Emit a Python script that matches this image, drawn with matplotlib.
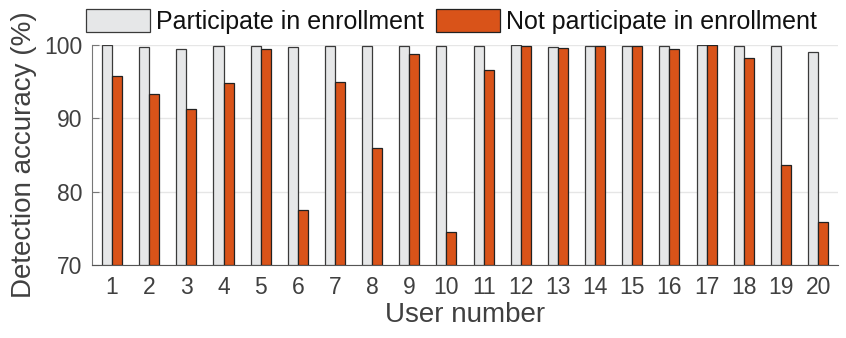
import matplotlib
matplotlib.use("Agg")
import matplotlib.pyplot as plt
import numpy as np

plt.rcParams['font.family'] = ['Liberation Sans', 'DejaVu Sans']

users = [str(i) for i in range(1, 21)]
participate = [100.0, 99.7, 99.4, 99.9, 99.9, 99.7, 99.8, 99.9, 99.8, 99.8,
               99.9, 100.0, 99.75, 99.9, 99.9, 99.9, 100.0, 99.9, 99.9, 99.0]
not_participate = [95.7, 93.3, 91.3, 94.8, 99.5, 77.5, 95.0, 85.9, 98.7, 74.5,
                   96.6, 99.85, 99.55, 99.8, 99.8, 99.5, 100.0, 98.2, 83.7, 75.9]
labels = ["Participate in enrollment", "Not participate in enrollment"]

txt = "#404040"
fig = plt.figure(figsize=(8.46, 3.38), dpi=100)
ax = fig.add_axes([0.1087, 0.216, 0.882, 0.651])

x = np.arange(1, len(users) + 1)
w = 0.27
ax.bar(x - w / 2, np.array(participate) - 70, w, bottom=70, color="#e6e7e8",
       edgecolor="#3a3a3a", linewidth=0.9, label=labels[0], zorder=3)
ax.bar(x + w / 2, np.array(not_participate) - 70, w, bottom=70, color="#d95319",
       edgecolor="#222222", linewidth=0.9, label=labels[1], zorder=3)

ax.set_xlim(0.46, 20.54)
ax.set_ylim(70, 100)
ax.set_yticks([70, 80, 90, 100])
ax.set_xticks(x)
ax.set_xticklabels(users)
ax.yaxis.grid(True, color="#e6e6e6", linewidth=1.0, zorder=0)
ax.set_axisbelow(True)

for s in ["top", "right"]:
    ax.spines[s].set_visible(False)
ax.spines["left"].set_color("#777777")
ax.spines["bottom"].set_color("#555555")
ax.tick_params(axis="y", direction="in", length=5, color="#777777",
               labelsize=16.5, labelcolor=txt, pad=7)
ax.tick_params(axis="x", length=0, labelsize=16.5, labelcolor=txt, pad=8)

ax.set_ylabel("Detection accuracy (%)", fontsize=20, color=txt, labelpad=5)
ax.set_xlabel("User number", fontsize=20, color=txt, labelpad=2)

fig.legend(loc="lower left", bbox_to_anchor=(86 / 846, 1 - 34 / 338), ncol=2,
           frameon=False, fontsize=18, borderpad=0, borderaxespad=0,
           handlelength=2.55, handleheight=1.0, handletextpad=0.25,
           columnspacing=0.5, labelcolor="#111111")

fig.savefig("out.png", dpi=100)
